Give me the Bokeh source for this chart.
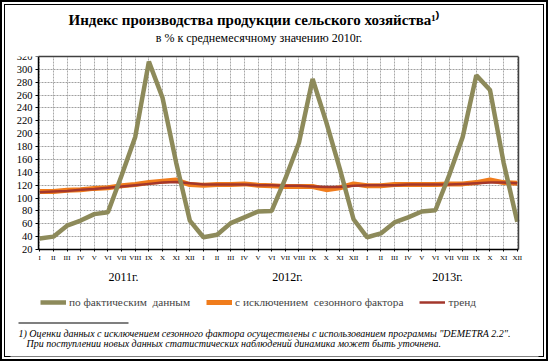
from bokeh.plotting import figure
from bokeh.models import (Range1d, FixedTicker, Legend, LegendItem, LinearAxis, Title,
                          Label, BoxAnnotation)
from bokeh.embed import file_html
from bokeh.resources import INLINE

months = ["I", "II", "III", "IV", "V", "VI", "VII", "VIII", "IX", "X", "XI", "XII"]
years = ["2011г.", "2012г.", "2013г."]
month_labels = months * 3

actual = [37, 40, 57, 65, 75, 78, 135, 195, 312, 256, 155, 65,
          39, 43, 61, 70, 79, 80, 130, 186, 285, 218, 145, 67,
          39, 45, 62, 70, 79, 81, 135, 195, 291, 268, 155, 63]
seasonal = [110, 110, 112, 113, 115, 116, 119, 121, 124, 126, 128, 121,
            120, 121, 121, 122, 120, 119, 118, 118, 118, 113, 116, 122,
            119, 119, 121, 121, 121, 121, 122, 122, 124, 128, 124, 123]
trend = [109, 110, 111, 113, 114, 116, 118, 120, 122, 124, 125, 123,
         121, 121, 121, 121, 120, 120, 119, 119, 118, 117, 117, 119,
         120, 120, 120, 121, 121, 121, 121, 122, 123, 124, 124, 123]
y_ticks = list(range(20, 321, 20))

series_names = ["по фактическим  данным", "с исключением  сезонного фактора", "тренд"]
title_text = "Индекс производства продукции сельского хозяйства¹⁾"
subtitle_text = "в % к среднемесячному значению 2010г."
foot1 = '1) Оценки  данных  с  исключением сезонного  фактора осуществлены  с использованием  программы "DEMETRA 2.2".'
foot2 = "При поступлении  новых данных статистических  наблюдений динамика может быть уточнена."

x_idx = list(range(len(actual)))

W, H = 548, 361
# chart area (page pixels) and its data extents
CL, CR, CT, CB = 38, 518, 56, 249
X0, X1 = -0.09, 35.09
Y0, Y1 = 20, 320
# drawing frame (page pixels), extended to hold legend and footnote
FL, FR, FT, FB = 10, 538, 56, 356

def px2x(px):
    return X0 + (px - CL) * (X1 - X0) / (CR - CL)

def px2y(py):
    return Y0 + (CB - py) * (Y1 - Y0) / (CB - CT)

SERIF = "Liberation Serif"

p = figure(width=W, height=H, output_backend="svg", toolbar_location=None,
           x_range=Range1d(px2x(FL), px2x(FR)), y_range=Range1d(px2y(FB), px2y(FT)),
           title=None, min_border_left=FL, min_border_right=W - FR,
           min_border_top=FT, min_border_bottom=H - FB)
p.background_fill_color = "white"
p.border_fill_alpha = 0
p.outline_line_alpha = 0
p.styles = {"background-color": "white",
            "box-shadow": "inset 0 0 0 2px black, inset 0 0 0 4px white, inset 0 0 0 5px black"}

xa = p.xaxis[0]
xa.fixed_location = Y0
xa.bounds = (X0, X1)
xa.ticker = FixedTicker(ticks=x_idx)
xa.major_label_overrides = {i: m for i, m in enumerate(month_labels)}
xa.major_label_text_font = SERIF
xa.major_label_text_font_size = "7px"
xa.major_label_text_color = "black"
xa.major_label_standoff = 2
xa.major_tick_out = 2
xa.major_tick_in = 0
xa.minor_tick_out = 0
xa.axis_line_color = "black"
xa.axis_line_width = 1.5

ya = p.yaxis[0]
ya.fixed_location = X0
ya.bounds = (Y0, Y1)
ya.ticker = FixedTicker(ticks=y_ticks)
ya.major_label_text_font = SERIF
ya.major_label_text_font_size = "10.5px"
ya.major_label_text_color = "black"
ya.major_label_standoff = 3
ya.major_tick_out = 3
ya.major_tick_in = 0
ya.minor_tick_out = 0
ya.axis_line_color = "black"
ya.axis_line_width = 1.5

right_axis = LinearAxis(fixed_location=X1, bounds=(Y0, Y1), ticker=FixedTicker(ticks=[]),
                        major_tick_out=0, major_tick_in=0, minor_tick_out=0, minor_tick_in=0,
                        major_label_text_alpha=0, axis_line_color="#404040", axis_line_width=1.5)
p.add_layout(right_axis, "right")

xg, yg = p.xgrid[0], p.ygrid[0]
xg.grid_line_color = "#a8a8a8"
xg.grid_line_dash = "2 1"
yg.grid_line_color = "#a0a0a0"
yg.grid_line_dash = "2 1"
yg.bounds = (Y0, Y1)
xg.bounds = (X0, X1)
if "cross_bounds" in xg.properties():
    xg.cross_bounds = (Y0, Y1)
    yg.cross_bounds = (X0, X1)
else:
    for l, r, b, t in [(px2x(FL), px2x(FR), px2y(FB), Y0), (px2x(FL), X0, Y0, Y1), (X1, px2x(FR), Y0, Y1)]:
        p.add_layout(BoxAnnotation(left=l, right=r, bottom=b, top=t, fill_color="white",
                                   fill_alpha=1, line_alpha=0, level="underlay"))

r_seas = p.line(x_idx, seasonal, line_color="#f07c1c", line_width=5)
r_trend = p.line(x_idx, trend, line_color="#a3372c", line_width=2.5)
r_act = p.line(x_idx, actual, line_color="#8d8a5a", line_width=4.5)

# year labels
for yr, px in zip(years, [123, 287, 447]):
    p.add_layout(Label(x=px2x(px), y=px2y(276), text=yr, text_font=SERIF,
                       text_font_size="12px", text_color="black",
                       text_align="center", text_baseline="middle"))

LEG_H = 16
legend = Legend(items=[LegendItem(label=series_names[0], renderers=[r_act]),
                       LegendItem(label=series_names[1], renderers=[r_seas]),
                       LegendItem(label=series_names[2], renderers=[r_trend])],
                orientation="horizontal", location=(40 - FL, FB - (301.7 + LEG_H / 2)),
                label_text_font=SERIF, label_text_font_size="11.3px",
                glyph_width=26, glyph_height=LEG_H, label_height=LEG_H,
                label_standoff=3, spacing=16, padding=0, margin=0,
                background_fill_alpha=0, border_line_alpha=0)
p.add_layout(legend, "center")

# footnote
p.add_layout(BoxAnnotation(left=px2x(18), right=px2x(128), top=px2y(322), bottom=px2y(323),
                           fill_color="black", fill_alpha=1, line_alpha=0))
p.add_layout(Label(x=px2x(18), y=px2y(333), text=foot1,
                   text_font=SERIF, text_font_style="italic", text_font_size="10px",
                   text_color="black", text_align="left", text_baseline="middle"))
p.add_layout(Label(x=px2x(26), y=px2y(343), text=foot2,
                   text_font=SERIF, text_font_style="italic", text_font_size="10px",
                   text_color="black", text_align="left", text_baseline="middle"))

# subtitle as a top axis label (its line is the chart's top border), main title above it
sub_pos = [round(px2x(258.5), 3)]
sub_axis = LinearAxis(ticker=FixedTicker(ticks=sub_pos), bounds=(X0, X1),
                      major_label_overrides={sub_pos[0]: subtitle_text},
                      major_label_text_font=SERIF, major_label_text_font_size="12px",
                      major_label_text_color="black",
                      major_label_standoff=12, major_tick_out=0, major_tick_in=0,
                      minor_tick_out=0, minor_tick_in=0,
                      axis_line_color="#404040", axis_line_width=1.5)
p.add_layout(sub_axis, "above")
p.add_layout(Title(text=title_text, align="left", offset=68 - FL, standoff=0,
                   text_font=SERIF, text_font_style="bold", text_font_size="15px",
                   text_color="black"), "above")

open("out.html", "w").write(file_html(p, INLINE))
